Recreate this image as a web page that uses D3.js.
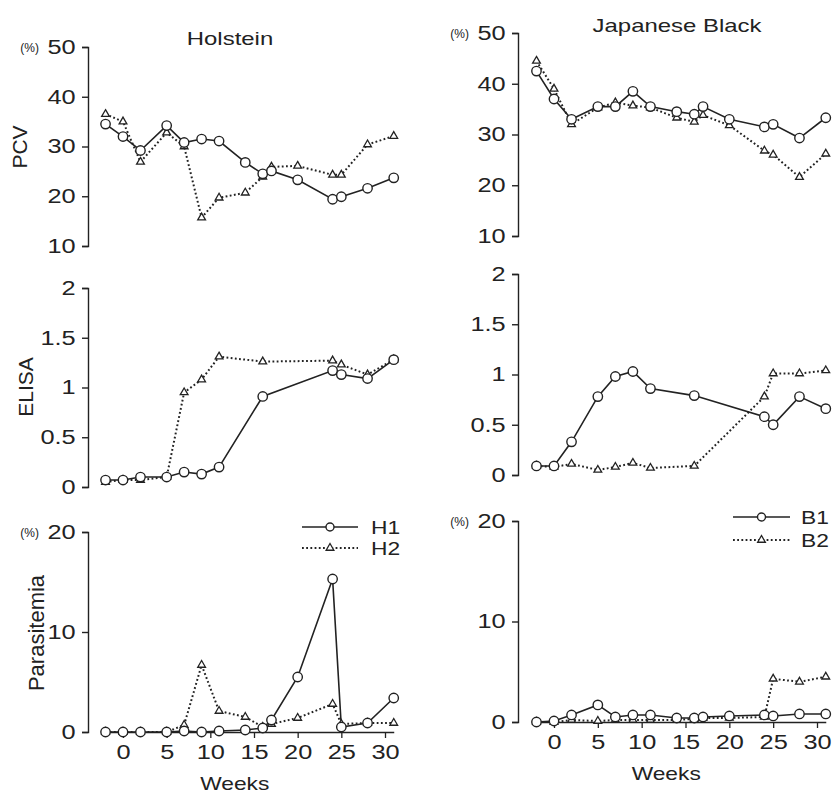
<!DOCTYPE html>
<html>
<head>
<meta charset="utf-8">
<script src="https://cdn.jsdelivr.net/npm/d3@7.9.0/dist/d3.min.js"></script>
<style>
  body { margin: 0; background: #fff; }
  text { font-family: "Liberation Sans", Arial, sans-serif; fill: #222; }
</style>
</head>
<body>
<svg width="833" height="792"></svg>
<script>
// sampling weeks
const weeks = [-2, 0, 2, 5, 7, 9, 11, 14, 16, 17, 20, 24, 25, 28, 31];
const weeksElisa = [-2, 0, 2, 5, 7, 9, 11, 16, 24, 25, 28, 31];
const xTicks = [0, 5, 10, 15, 20, 25, 30];

// Holstein
const pcvH1 = [34.5, 32.0, 29.2, 34.2, 30.8, 31.5, 31.1, 26.8, 24.5, 25.1, 23.3, 19.4, 19.9, 21.6, 23.7];
const pcvH2 = [36.5, 35.0, 26.9, 32.8, 30.0, 15.7, 19.7, 20.7, 23.9, 25.9, 26.1, 24.3, 24.3, 30.4, 32.1];
const elisaH1 = [0.07, 0.07, 0.10, 0.10, 0.15, 0.13, 0.20, 0.91, 1.17, 1.13, 1.09, 1.28];
const elisaH2 = [0.05, 0.07, 0.07, 0.10, 0.95, 1.08, 1.31, 1.26, 1.27, 1.23, 1.13, 1.28];
const paraH1 = [0, 0, 0, 0, 0.1, 0, 0.1, 0.2, 0.4, 1.2, 5.5, 15.3, 0.5, 0.9, 3.4];
const paraH2 = [0, 0, 0, 0, 0.7, 6.7, 2.1, 1.5, 0.5, 0.8, 1.4, 2.8, 0.8, 0.9, 0.9];

// Japanese Black
const pcvB1 = [42.5, 37.0, 33.0, 35.5, 35.5, 38.5, 35.5, 34.5, 34.0, 35.5, 33.0, 31.5, 32.0, 29.3, 33.3];
const pcvB2 = [44.5, 39.0, 32.0, 35.3, 36.3, 35.7, 35.3, 33.3, 32.5, 33.8, 31.8, 26.8, 26.0, 21.6, 26.2];
const elisaB1 = [0.09, 0.09, 0.33, 0.78, 0.98, 1.03, 0.86, 0.79, 0.58, 0.50, 0.78, 0.66];
const elisaB2 = [0.09, 0.08, 0.11, 0.05, 0.08, 0.12, 0.07, 0.09, 0.78, 1.01, 1.01, 1.04];
const paraB1 = [0, 0.1, 0.7, 1.7, 0.5, 0.7, 0.7, 0.4, 0.4, 0.5, 0.6, 0.7, 0.6, 0.8, 0.8];
const paraB2 = [0, 0, 0.2, 0.1, 0.2, 0.2, 0.2, 0.2, 0.3, 0.4, 0.4, 0.5, 4.3, 4.0, 4.5];

const breeds = ['Holstein', 'Japanese Black'];
const seriesNames = [['H1', 'H2'], ['B1', 'B2']];

const svg = d3.select('svg');
const ink = '#222';
const SX = 1.3; // the scanned type is wide

const cols = [
  { axisX: 88, x0: 123, x30: 385, titleX: 230, titleY: 45 },
  { axisX: 518, x0: 554, x30: 817, titleX: 677, titleY: 32 }
];

const rows = [
  { key: 'pcv', domain: [10, 50], ticks: [10, 20, 30, 40, 50], range: [[246, 47], [236, 33]], pct: true,
    label: 'PCV', labelPos: [27, 147, 21], weeks: weeks,
    data: [[pcvH1, pcvH2], [pcvB1, pcvB2]] },
  { key: 'elisa', domain: [0, 2], ticks: [0, 0.5, 1, 1.5, 2], range: [[487, 288], [475, 274]], pct: false,
    label: 'ELISA', labelPos: [33, 387, 21], weeks: weeksElisa,
    data: [[elisaH1, elisaH2], [elisaB1, elisaB2]] },
  { key: 'para', domain: [0, 20], ticks: [0, 10, 20], range: [[732, 532], [722, 521]], pct: true,
    label: 'Parasitemia', labelPos: [44, 633, 22], weeks: weeks,
    data: [[paraH1, paraH2], [paraB1, paraB2]] }
];

function wideText(g, x, y, str, size, anchor, sx = SX) {
  return g.append('text')
    .attr('transform', `translate(${x},${y}) scale(${sx},1)`)
    .attr('text-anchor', anchor)
    .style('font-size', size + 'px')
    .text(str);
}

const tri = d3.symbol().type(d3.symbolTriangle).size(26);

cols.forEach((c, ci) => {
  const x = d3.scaleLinear().domain([0, 30]).range([c.x0, c.x30]);

  wideText(svg, c.titleX, c.titleY, breeds[ci], 18, 'middle', 1.33);

  rows.forEach((r) => {
    const y = d3.scaleLinear().domain(r.domain).range(r.range[ci]);
    const g = svg.append('g');

    // y axis
    const ya = g.append('g')
      .attr('transform', `translate(${c.axisX},0)`)
      .call(d3.axisLeft(y).tickValues(r.ticks).tickSize(6).tickPadding(3.5).tickFormat(d3.format('~g')));
    ya.selectAll('path, line').attr('stroke', ink).attr('stroke-width', 1.4);
    ya.selectAll('text')
      .attr('fill', ink)
      .style('font-size', '19.5px')
      .style('font-family', '"Liberation Sans", Arial, sans-serif')
      .attr('transform', `scale(${SX},1)`);

    if (r.pct) {
      g.append('text')
        .attr('x', c.axisX - 49).attr('y', y(r.domain[1]) + 5)
        .attr('text-anchor', 'end')
        .style('font-size', '12px')
        .text('(%)');
    }

    if (ci === 0) {
      g.append('text')
        .attr('transform', `translate(${r.labelPos[0]},${r.labelPos[1]}) rotate(-90)`)
        .attr('text-anchor', 'middle')
        .style('font-size', r.labelPos[2] + 'px')
        .text(r.label);
    }

    // weeks axis only under parasitemia
    if (r.key === 'para') {
      const xa = g.append('g')
        .attr('transform', `translate(0,${y(0)})`)
        .call(d3.axisBottom(x.copy().domain([-2, 31]).range([x(-2), x(31)]))
          .tickValues(xTicks).tickSize(6).tickSizeOuter(0).tickPadding(7));
      xa.selectAll('path, line').attr('stroke', ink).attr('stroke-width', 1.3);
      xa.selectAll('text')
        .attr('fill', ink)
        .style('font-size', '19.5px')
        .style('font-family', '"Liberation Sans", Arial, sans-serif')
        .attr('transform', `scale(${SX},1)`);
      wideText(g, x(12.8), y(0) + 58, 'Weeks', 17.5, 'middle');
    }

    const line = d3.line().x((d) => x(d[0])).y((d) => y(d[1]));
    const pts1 = r.weeks.map((w, i) => [w, r.data[ci][0][i]]);
    const pts2 = r.weeks.map((w, i) => [w, r.data[ci][1][i]]);

    g.append('path').datum(pts2).attr('d', line)
      .attr('fill', 'none').attr('stroke', ink).attr('stroke-width', 2)
      .attr('stroke-dasharray', '1.8,2.4');
    g.append('path').datum(pts1).attr('d', line)
      .attr('fill', 'none').attr('stroke', ink).attr('stroke-width', 1.6);

    g.selectAll('.tri').data(pts2).join('path')
      .attr('class', 'tri')
      .attr('d', tri)
      .attr('transform', (d) => `translate(${x(d[0])},${y(d[1])})`)
      .attr('fill', '#fff').attr('stroke', ink).attr('stroke-width', 1.3);
    g.selectAll('.dot').data(pts1).join('circle')
      .attr('class', 'dot')
      .attr('cx', (d) => x(d[0])).attr('cy', (d) => y(d[1]))
      .attr('r', 4.7)
      .attr('fill', '#fff').attr('stroke', ink).attr('stroke-width', 1.4);
  });
});

// legends
const legends = [
  { x1: 302, x2: 358, tx: 371, ys: [527, 548] },
  { x1: 733, x2: 790, tx: 801, ys: [517, 540] }
];
legends.forEach((L, li) => {
  const g = svg.append('g');
  L.ys.forEach((yy, si) => {
    const mid = (L.x1 + L.x2) / 2;
    g.append('line').attr('x1', L.x1).attr('x2', L.x2).attr('y1', yy).attr('y2', yy)
      .attr('stroke', ink)
      .attr('stroke-width', si === 0 ? 1.6 : 2)
      .attr('stroke-dasharray', si === 0 ? null : '1.8,2.4');
    if (si === 0) {
      g.append('circle').attr('cx', mid).attr('cy', yy).attr('r', 4)
        .attr('fill', '#fff').attr('stroke', ink).attr('stroke-width', 1.4);
    } else {
      g.append('path').attr('d', tri).attr('transform', `translate(${mid},${yy})`)
        .attr('fill', '#fff').attr('stroke', ink).attr('stroke-width', 1.3);
    }
    wideText(g, L.tx, yy + 7, seriesNames[li][si], 19, 'start', 1.2);
  });
});
</script>
</body>
</html>
